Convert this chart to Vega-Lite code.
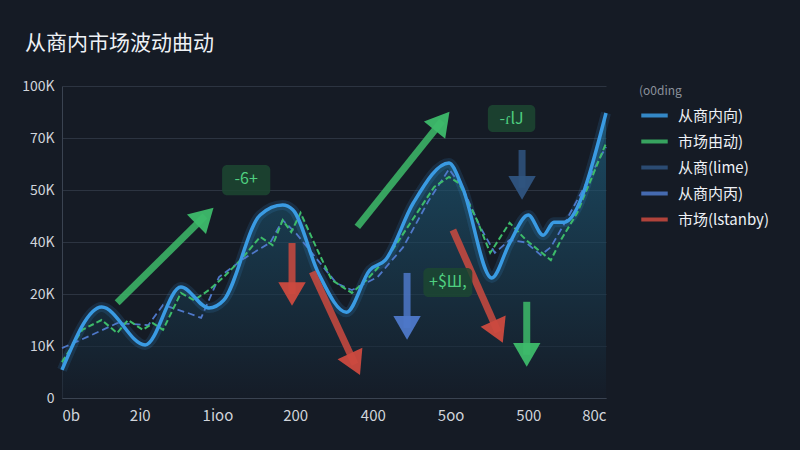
{
  "$schema": "https://vega.github.io/schema/vega-lite/v6.json",
  "autosize": {"type": "none"},
  "width": 544,
  "height": 312,
  "padding": {"left": 62, "top": 86, "right": 194, "bottom": 52},
  "background": "#151b25",
  "config": {
    "font": "Noto Sans CJK SC",
    "view": {"stroke": null},
    "axis": {"labelColor": "#d0d4db", "labelFontSize": 14, "ticks": false, "domainColor": "#3a4351", "gridColor": "#2c3441", "gridWidth": 1}
  },
  "title": {
    "text": "从商内市场波动曲动",
    "anchor": "start",
    "frame": "group",
    "dx": -37,
    "offset": 8,
    "baseline": "alphabetic",
    "fontSize": 21,
    "fontWeight": "normal",
    "color": "#eef1f5"
  },
  "datasets": {
    "main": [
      {"x": 0, "v": 5400}, {"x": 51, "v": 17500}, {"x": 107, "v": 10200}, {"x": 153, "v": 22700},
      {"x": 189, "v": 17300}, {"x": 208, "v": 18800}, {"x": 255, "v": 45200}, {"x": 284, "v": 47100},
      {"x": 297, "v": 46200}, {"x": 330, "v": 28000}, {"x": 366, "v": 16500}, {"x": 396, "v": 29200},
      {"x": 416, "v": 33000}, {"x": 452, "v": 47500}, {"x": 498, "v": 60400}, {"x": 515, "v": 51200},
      {"x": 553, "v": 26200}, {"x": 576, "v": 39600}, {"x": 600, "v": 45200}, {"x": 619, "v": 41300},
      {"x": 633, "v": 43800}, {"x": 646, "v": 43800}, {"x": 700, "v": 84400}
    ],
    "green": [
      {"x": 0, "v": 6900}, {"x": 26, "v": 13100}, {"x": 51, "v": 15000}, {"x": 71, "v": 12500},
      {"x": 85, "v": 15000}, {"x": 104, "v": 13100}, {"x": 117, "v": 14400}, {"x": 130, "v": 13100},
      {"x": 153, "v": 20400}, {"x": 170, "v": 18800}, {"x": 189, "v": 21500}, {"x": 208, "v": 26500},
      {"x": 232, "v": 33800}, {"x": 255, "v": 41000}, {"x": 271, "v": 38800}, {"x": 284, "v": 44200},
      {"x": 295, "v": 41900}, {"x": 307, "v": 45600}, {"x": 327, "v": 38000}, {"x": 347, "v": 25400},
      {"x": 373, "v": 20400}, {"x": 392, "v": 25400}, {"x": 419, "v": 34200}, {"x": 445, "v": 42900},
      {"x": 479, "v": 51200}, {"x": 498, "v": 55000}, {"x": 511, "v": 52600}, {"x": 534, "v": 44200},
      {"x": 551, "v": 35800}, {"x": 576, "v": 43700}, {"x": 597, "v": 40400}, {"x": 616, "v": 36200},
      {"x": 629, "v": 33000}, {"x": 642, "v": 40400}, {"x": 663, "v": 45600}, {"x": 700, "v": 68000}
    ],
    "blue2": [
      {"x": 0, "v": 9600}, {"x": 32, "v": 11700}, {"x": 71, "v": 14400}, {"x": 111, "v": 14000},
      {"x": 130, "v": 17900}, {"x": 163, "v": 16300}, {"x": 179, "v": 15400}, {"x": 202, "v": 26500},
      {"x": 235, "v": 33800}, {"x": 268, "v": 39800}, {"x": 284, "v": 44200}, {"x": 301, "v": 41700},
      {"x": 327, "v": 33800}, {"x": 353, "v": 24200}, {"x": 373, "v": 21500}, {"x": 406, "v": 26500},
      {"x": 439, "v": 38000}, {"x": 472, "v": 48000}, {"x": 498, "v": 58000}, {"x": 515, "v": 51200},
      {"x": 538, "v": 42900}, {"x": 557, "v": 35800}, {"x": 576, "v": 40400}, {"x": 597, "v": 39800},
      {"x": 616, "v": 35000}, {"x": 629, "v": 38000}, {"x": 649, "v": 44200}, {"x": 700, "v": 66600}
    ],
    "arrows": [
      {"s": "市场由动)", "x1": 71, "y1": 18300, "x2": 184, "y2": 45000, "ang": 46},
      {"s": "市场由动)", "x1": 380, "y1": 42900, "x2": 489, "y2": 79800, "ang": 39},
      {"s": "市场由动)", "x1": 598, "y1": 18500, "x2": 598, "y2": 8300, "ang": 180},
      {"s": "市场(lstanby)", "x1": 296, "y1": 39600, "x2": 296, "y2": 20000, "ang": 180},
      {"s": "市场(lstanby)", "x1": 322, "y1": 28500, "x2": 377, "y2": 6500, "ang": 155},
      {"s": "市场(lstanby)", "x1": 503, "y1": 42300, "x2": 561, "y2": 12700, "ang": 156},
      {"s": "从商内丙)", "x1": 444, "y1": 28100, "x2": 444, "y2": 13500, "ang": 180},
      {"s": "从商(lime)", "x1": 592, "y1": 65400, "x2": 592, "y2": 50800, "ang": 180}
    ],
    "badges": [
      {"t": "-6+", "x1": 206, "x2": 268, "y1": 49000, "y2": 59600},
      {"t": "-ɾlJ", "x1": 548, "x2": 609, "y1": 73500, "y2": 89000},
      {"t": "+$Ш,", "x1": 465, "x2": 528, "y1": 19400, "y2": 30000}
    ]
  },
  "layer": [
    {
      "data": {"name": "main"},
      "mark": {"type": "area", "interpolate": "monotone", "opacity": 0.6,
        "fill": {"gradient": "linear", "x1": 0, "y1": 0, "x2": 0, "y2": 1,
          "stops": [{"offset": 0, "color": "#1f6a8c"}, {"offset": 1, "color": "#151d29"}]}},
      "encoding": {
        "x": {"field": "x", "type": "quantitative",
          "scale": {"domain": [0, 700], "nice": false, "zero": false},
          "axis": {"title": null, "grid": false, "values": [0, 100, 200, 300, 400, 500, 600, 700],
            "labelExpr": "['0b','2i0','1ioo','200','400','5oo','500','80c'][round(datum.value/100)]",
            "labelPadding": 10, "labelFontSize": 15}},
        "y": {"field": "v", "type": "quantitative",
          "scale": {"domain": [0, 10000, 20000, 40000, 50000, 70000, 100000], "range": [312, 260, 208, 156, 104, 52, 0], "nice": false, "zero": false},
          "axis": {"title": null, "values": [0, 10000, 20000, 40000, 50000, 70000, 100000],
            "labelExpr": "datum.value == 0 ? '0' : (datum.value / 1000) + 'K'", "labelPadding": 8}}
      }
    },
    {
      "data": {"name": "main"},
      "mark": {"type": "line", "interpolate": "monotone", "stroke": "#3a9be3", "strokeWidth": 10, "opacity": 0.15},
      "encoding": {"x": {"field": "x", "type": "quantitative"}, "y": {"field": "v", "type": "quantitative"}}
    },
    {
      "data": {"name": "blue2"},
      "transform": [{"calculate": "'从商内丙)'", "as": "s"}],
      "mark": {"type": "line", "strokeWidth": 1.8, "strokeDash": [7, 4]},
      "encoding": {
        "x": {"field": "x", "type": "quantitative"}, "y": {"field": "v", "type": "quantitative"},
        "color": {"field": "s", "type": "nominal",
          "scale": {"domain": ["从商内向)", "市场由动)", "从商(lime)", "从商内丙)", "市场(lstanby)"],
            "range": ["#3a9be3", "#3dbb6a", "#2f5480", "#4e78c9", "#cc4a3f"]},
          "legend": {"title": "(o0ding", "symbolType": "stroke", "symbolStrokeWidth": 4, "symbolSize": 700,
            "titleColor": "#8b919b", "titleFontSize": 12, "titleFontWeight": "normal", "titlePadding": 2,
            "labelColor": "#eef1f5", "labelFontSize": 15, "rowPadding": 2, "offset": 26, "labelOffset": 8}}
      }
    },
    {
      "data": {"name": "green"},
      "transform": [{"calculate": "'市场由动)'", "as": "s"}],
      "mark": {"type": "line", "strokeWidth": 2, "strokeDash": [6, 3]},
      "encoding": {
        "x": {"field": "x", "type": "quantitative"}, "y": {"field": "v", "type": "quantitative"},
        "color": {"field": "s", "type": "nominal"}
      }
    },
    {
      "data": {"name": "main"},
      "transform": [{"calculate": "'从商内向)'", "as": "s"}],
      "mark": {"type": "line", "interpolate": "monotone", "strokeWidth": 3.5},
      "encoding": {
        "x": {"field": "x", "type": "quantitative"}, "y": {"field": "v", "type": "quantitative"},
        "color": {"field": "s", "type": "nominal"}
      }
    },
    {
      "data": {"name": "arrows"},
      "mark": {"type": "rule", "strokeWidth": 7, "opacity": 0.85},
      "encoding": {
        "x": {"field": "x1", "type": "quantitative"}, "x2": {"field": "x2"},
        "y": {"field": "y1", "type": "quantitative"}, "y2": {"field": "y2"},
        "color": {"field": "s", "type": "nominal"}
      }
    },
    {
      "data": {"name": "arrows"},
      "mark": {"type": "point", "shape": "triangle-up", "filled": true, "size": 750, "opacity": 0.95},
      "encoding": {
        "x": {"field": "x2", "type": "quantitative"},
        "y": {"field": "y2", "type": "quantitative"},
        "angle": {"field": "ang", "type": "quantitative", "scale": null},
        "color": {"field": "s", "type": "nominal"}
      }
    },
    {
      "data": {"name": "badges"},
      "mark": {"type": "rect", "fill": "#1c4631", "opacity": 0.85, "cornerRadius": 5},
      "encoding": {
        "x": {"field": "x1", "type": "quantitative"}, "x2": {"field": "x2"},
        "y": {"field": "y1", "type": "quantitative"}, "y2": {"field": "y2"}
      }
    },
    {
      "data": {"name": "badges"},
      "transform": [{"calculate": "(datum.x1 + datum.x2) / 2", "as": "xc"}],
      "mark": {"type": "text", "color": "#4fcf80", "fontSize": 16, "baseline": "middle", "align": "center"},
      "encoding": {
        "x": {"field": "xc", "type": "quantitative"},
        "y": {"field": "y2", "type": "quantitative"},
        "yOffset": {"value": 14},
        "text": {"field": "t"}
      }
    }
  ]
}
